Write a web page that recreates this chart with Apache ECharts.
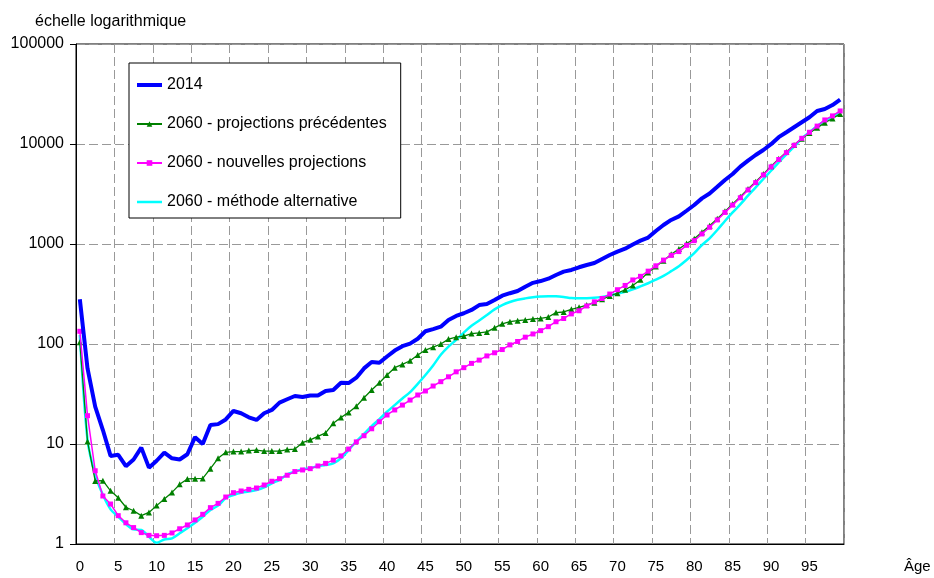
<!DOCTYPE html>
<html>
<head>
<meta charset="utf-8">
<script src="https://cdn.jsdelivr.net/npm/echarts@6/dist/echarts.min.js"></script>
<style>
  html, body { margin: 0; padding: 0; background: #fff; }
  #chart { width: 934px; height: 578px; }
</style>
</head>
<body>
<div id="chart"></div>
<script>
// ages 0..99
const ages = []
for (let a = 0; a <= 99; a++) ages.push(String(a))

const y2014 = [
  280, 57, 23.6, 13.8, 7.6, 7.8, 6.0, 7.0, 9.2, 5.8,
  6.8, 8.2, 7.2, 7.0, 7.9, 11.7, 10, 15.5, 15.8, 17.6,
  21.4, 20.3, 18.5, 17.4, 20.3, 21.9, 25.9, 28, 30.2, 29.5,
  30.5, 30.5, 33.9, 34.7, 41, 40.7, 46, 57, 66, 65,
  75, 86, 95, 101, 113, 134, 141, 149, 174, 191,
  203, 219, 245, 251, 275, 304, 322, 339, 374, 409,
  426, 450, 490, 529, 550, 585, 617, 646, 708, 776,
  838, 898, 990, 1080, 1160, 1350, 1550, 1740, 1890, 2150,
  2455, 2860, 3200, 3730, 4365, 5010, 5935, 6810, 7760, 8710,
  9960, 11700, 13100, 14700, 16500, 18500, 21400, 22400, 24500, 27800
]

const yPrecedentes = [
  104, 10.6, 4.27, 4.3, 3.4, 2.9, 2.33, 2.15, 1.92, 2.07,
  2.42, 2.82, 3.28, 3.95, 4.47, 4.5, 4.53, 5.67, 7.2, 8.25,
  8.4, 8.4, 8.6, 8.7, 8.5, 8.5, 8.5, 8.8, 8.9, 10.3,
  11, 11.9, 12.9, 16.1, 18.4, 20.7, 23.8, 29, 34.7, 41,
  49, 58, 62.5, 68, 77.6, 87, 93, 100, 112, 117,
  120, 127, 129, 132, 145, 159, 167, 171, 174, 178,
  180, 186, 206, 209, 222, 233, 245, 259, 280, 302,
  322, 349, 385, 440, 520, 595, 680, 790, 890, 1010,
  1130, 1310, 1520, 1790, 2120, 2510, 2970, 3550, 4200, 5000,
  6000, 7100, 8300, 9800, 11300, 12900, 14500, 16300, 18000, 20000
]

const yNouvelles = [
  134, 19.2, 5.4, 3.02, 2.51, 1.92, 1.63, 1.46, 1.3, 1.22,
  1.21, 1.22, 1.29, 1.42, 1.55, 1.74, 1.98, 2.31, 2.55, 2.95,
  3.26, 3.39, 3.52, 3.63, 3.89, 4.24, 4.5, 4.87, 5.3, 5.5,
  5.67, 6.03, 6.4, 6.9, 7.6, 8.9, 10.5, 12.1, 14.2, 16.7,
  19.5, 21.9, 24.5, 27.5, 30.9, 33.9, 38, 42, 47, 52.7,
  58, 64, 69, 76, 81.7, 88, 98, 106, 117, 126,
  136, 149, 167, 180, 200, 215, 240, 264, 285, 316,
  349, 385, 437, 475, 535, 605, 690, 770, 840, 970,
  1080, 1260, 1470, 1740, 2070, 2450, 2900, 3470, 4110, 4900,
  5900, 7000, 8200, 9700, 11400, 13100, 15100, 17400, 19100, 21400
]

const yAlternative = [
  123, 11, 4.9, 3.1, 2.22, 1.87, 1.58, 1.4, 1.38, 1.18,
  1.03, 1.11, 1.14, 1.28, 1.44, 1.63, 1.87, 2.19, 2.42, 2.88,
  3.09, 3.26, 3.34, 3.47, 3.69, 4.05, 4.37, 4.97, 5.3, 5.6,
  5.73, 6.03, 6.17, 6.4, 7.2, 8.7, 10.6, 12.6, 15.1, 17.7,
  21, 24.5, 28.5, 33, 40, 49, 61, 78, 94, 110,
  130, 152, 172, 195, 222, 245, 263, 277, 286, 293,
  298, 301, 300, 295, 288, 286, 287, 290, 296, 305,
  318, 333, 352, 377, 405, 440, 480, 535, 600, 692,
  810, 977, 1140, 1380, 1700, 2070, 2490, 3040, 3680, 4470,
  5400, 6560, 7880, 9400, 11400, 13100, 15100, 17100, 18700, 21000
]

const seriesNames = [
  '2014',
  '2060 - projections précédentes',
  '2060 - nouvelles projections',
  '2060 - méthode alternative'
]

const FONT = '"Liberation Sans", Arial, sans-serif'
const chart = echarts.init(document.getElementById('chart'))

chart.setOption({
  animation: false,
  backgroundColor: '#fff',
  textStyle: { fontFamily: FONT, color: '#000' },
  title: {
    text: 'échelle logarithmique',
    left: 30,
    top: 9,
    textStyle: { fontFamily: FONT, fontSize: 16, fontWeight: 'normal', color: '#000' }
  },
  legend: {
    orient: 'vertical',
    left: 129,
    top: 63,
    padding: [14, 14, 8, 7],
    itemGap: 23,
    itemWidth: 25,
    itemHeight: 7,
    backgroundColor: '#fff',
    borderColor: '#000',
    borderWidth: 1,
    borderRadius: 0,
    textStyle: { fontFamily: FONT, fontSize: 16, color: '#000' },
    data: [
      { name: seriesNames[0], icon: 'path://M0,0L25,0L25,4L0,4Z' },
      { name: seriesNames[1] },
      { name: seriesNames[2] },
      { name: seriesNames[3], icon: 'path://M0,0L25,0L25,2.5L0,2.5Z' }
    ]
  },
  grid: {
    left: 76,
    right: 90,
    top: 44,
    bottom: 34,
    show: true,
    borderColor: '#000',
    borderWidth: 1
  },
  xAxis: {
    type: 'category',
    data: ages,
    boundaryGap: true,
    name: 'Âge',
    nameLocation: 'end',
    nameGap: 60,
    nameTextStyle: {
      fontFamily: FONT,
      fontSize: 15,
      color: '#000',
      verticalAlign: 'top',
      padding: [15, 0, 0, 0]
    },
    axisLine: { lineStyle: { color: '#000', width: 1 } },
    axisTick: { interval: 4, length: 5, lineStyle: { color: '#000' } },
    axisLabel: { interval: 4, margin: 15, fontSize: 15, color: '#000', fontFamily: FONT },
    splitLine: {
      show: true,
      interval: 4,
      lineStyle: { color: '#999', type: [9, 4], width: 1 }
    }
  },
  yAxis: {
    type: 'log',
    logBase: 10,
    min: 1,
    max: 100000,
    axisLine: { show: true, lineStyle: { color: '#000', width: 1 } },
    axisTick: { show: true, length: 6, lineStyle: { color: '#000' } },
    axisLabel: {
      fontSize: 16,
      color: '#000',
      fontFamily: FONT,
      margin: 12,
      formatter: (v) => String(Math.round(v))
    },
    splitLine: {
      show: true,
      lineStyle: { color: '#999', type: [9, 4], width: 1 }
    }
  },
  series: [
    {
      name: seriesNames[0],
      type: 'line',
      data: y2014,
      color: '#0000ff',
      symbol: 'none',
      lineStyle: { width: 4 },
      z: 6
    },
    {
      name: seriesNames[1],
      type: 'line',
      data: yPrecedentes,
      color: '#008000',
      symbol: 'triangle',
      symbolSize: 6,
      showAllSymbol: true,
      lineStyle: { width: 1.3 },
      z: 4
    },
    {
      name: seriesNames[2],
      type: 'line',
      data: yNouvelles,
      color: '#ff00ff',
      symbol: 'rect',
      symbolSize: 5,
      showAllSymbol: true,
      lineStyle: { width: 1.5 },
      z: 5
    },
    {
      name: seriesNames[3],
      type: 'line',
      data: yAlternative,
      color: '#00ffff',
      symbol: 'none',
      smooth: 0.3,
      lineStyle: { width: 2.5 },
      z: 3
    }
  ]
})
</script>
</body>
</html>
